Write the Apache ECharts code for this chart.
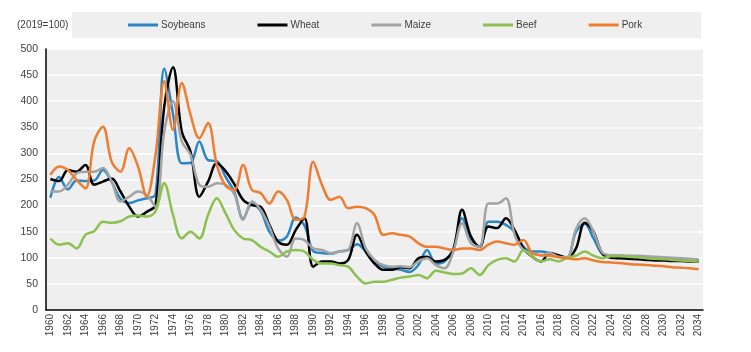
<!DOCTYPE html>
<html>
<head>
<meta charset="utf-8">
<script src="https://cdn.jsdelivr.net/npm/echarts@6/dist/echarts.min.js"></script>
<style>
  html, body { margin: 0; padding: 0; background: #fff; }
  #chart { width: 751px; height: 352px; }
</style>
</head>
<body>
<div id="chart"></div>
<script>
// years 1960..2034
const years = [];
for (let y = 1960; y <= 2034; y++) years.push(String(y));

const soybeans = [
  215, 255, 231, 248, 247, 248, 268, 245, 213, 205, 210, 214, 221, 462, 375, 281, 282, 323, 287, 285,
  255, 226, 175, 203, 190, 150, 133, 141, 177, 162, 113, 109, 108, 112, 115, 126, 112, 93, 83, 80,
  77, 73, 86, 115, 89, 93, 118, 176, 137, 121, 169, 169, 163, 150, 121, 112, 112, 109, 104, 101,
  150, 165, 137, 108, 103, 102, 101, 100, 99, 98, 97, 96, 96, 95, 95
];
const wheat = [
  251, 247, 268, 265, 278, 240, 246, 252, 227, 198, 179, 188, 201, 390, 465, 342, 303, 217, 246, 281,
  266, 241, 211, 201, 198, 163, 131, 125, 153, 176, 83, 93, 93, 89, 96, 144, 112, 89, 77, 77,
  82, 80, 99, 102, 93, 96, 115, 192, 141, 121, 160, 157, 176, 153, 118, 102, 93, 109, 105, 100,
  118, 167, 150, 108, 100, 99, 98, 97, 96, 95, 95, 94, 94, 93, 93
];
const maize = [
  227, 227, 240, 262, 265, 265, 272, 246, 208, 217, 227, 220, 198, 342, 400, 323, 297, 240, 236, 243,
  240, 222, 173, 208, 192, 160, 118, 102, 137, 134, 118, 115, 109, 112, 115, 166, 118, 96, 86, 83,
  84, 82, 93, 99, 86, 80, 112, 166, 128, 121, 204, 204, 214, 144, 115, 109, 105, 109, 102, 101,
  155, 176, 150, 110, 105, 105, 104, 104, 103, 102, 101, 100, 99, 98, 97
];
const beef = [
  137, 125, 128, 118, 144, 151, 169, 167, 170, 179, 181, 179, 189, 243, 182, 137, 150, 137, 182, 214,
  185, 153, 137, 134, 121, 112, 102, 112, 115, 112, 96, 89, 89, 86, 83, 64, 51, 54, 54, 58,
  62, 64, 67, 61, 75, 72, 69, 70, 80, 67, 86, 96, 99, 93, 115, 102, 93, 97, 93, 100,
  104, 112, 104, 99, 103, 103, 102, 101, 99, 98, 97, 96, 95, 94, 93
];
const pork = [
  259, 275, 268, 249, 233, 323, 351, 284, 265, 310, 275, 217, 297, 438, 345, 435, 374, 329, 358, 278,
  238, 230, 278, 230, 224, 204, 227, 211, 173, 179, 284, 240, 211, 217, 195, 198, 195, 182, 144, 147,
  144, 141, 128, 121, 121, 118, 115, 118, 118, 115, 125, 131, 128, 125, 134, 109, 105, 104, 101, 99,
  97, 99, 95, 92, 91, 90, 88, 87, 86, 85, 84, 82, 81, 80, 78
];

const seriesNames = ['Soybeans', 'Wheat', 'Maize', 'Beef', 'Pork'];
const seriesData = [soybeans, wheat, maize, beef, pork];
const colors = ['#2a86c6', '#000000', '#a3a3a3', '#8cc152', '#ee7d31'];

const font = 'Liberation Sans, Arial, sans-serif';
const chart = echarts.init(document.getElementById('chart'));

const option = {
  animation: false,
  color: colors,
  title: {
    text: '(2019=100)',
    left: 17, top: 20, padding: 0,
    textStyle: { fontSize: 10, fontWeight: 'normal', color: '#404040', fontFamily: font }
  },
  graphic: [{
    type: 'rect', z: -1,
    shape: { x: 72, y: 12, width: 629, height: 26 },
    style: { fill: '#efefef' }
  }],
  legend: {
    left: 128, top: 20, padding: 0,
    itemWidth: 30, itemHeight: 3, itemGap: 52,
    icon: 'rect',
    textStyle: { fontSize: 10, color: '#404040', fontFamily: font, padding: [0, 0, 0, -2] },
    data: seriesNames
  },
  grid: {
    left: 46, right: 48, top: 49, bottom: 42,
    show: true, backgroundColor: '#efefef', borderWidth: 0
  },
  xAxis: {
    type: 'category',
    data: years,
    boundaryGap: true,
    axisLine: { lineStyle: { color: '#000', width: 1.5 } },
    axisTick: { inside: true, length: 4, interval: 1, lineStyle: { color: '#000' } },
    axisLabel: { interval: 1, rotate: 90, fontSize: 10, color: '#404040', fontFamily: font, margin: 4 },
    splitLine: { show: false }
  },
  yAxis: {
    type: 'value',
    min: 0, max: 500, interval: 50,
    axisLine: { show: true, lineStyle: { color: '#000', width: 1.5 } },
    axisTick: { show: false },
    axisLabel: { fontSize: 10.5, color: '#404040', fontFamily: font, margin: 8 },
    splitLine: { lineStyle: { color: '#ffffff', width: 1.5 } }
  },
  series: seriesNames.map((name, i) => ({
    name: name,
    type: 'line',
    data: seriesData[i],
    smooth: 0.35,
    symbol: 'none',
    lineStyle: { width: 2.5, color: colors[i] }
  }))
};

chart.setOption(option);
</script>
</body>
</html>
